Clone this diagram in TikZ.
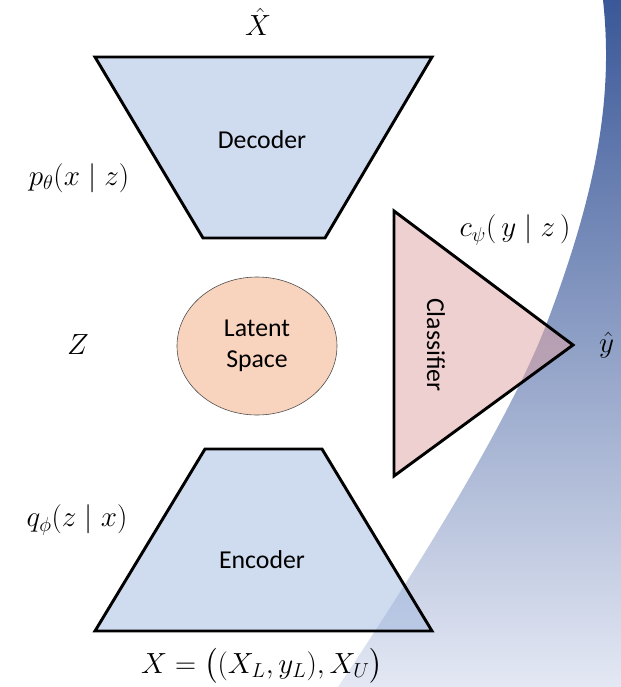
\documentclass[tikz,border=0pt]{standalone}
\usepackage{amsmath}
\usepackage[no-math]{fontspec}
\setmainfont{Carlito}
\usetikzlibrary{shapes.geometric}
\definecolor{bgtop}{RGB}{58,88,152}
\definecolor{bgmid}{RGB}{125,152,204}
\definecolor{bgbot}{RGB}{228,232,244}
\definecolor{netblue}{RGB}{159,183,221}
\definecolor{latpeach}{RGB}{248,211,189}
\definecolor{clspink}{RGB}{223,161,161}
\newcommand{\mnode}[3]{\node [mlabel] (#1) at (#2) {$#3$}}
\tikzset{
  block/.style={draw, line width=2.5pt, line join=miter},
  txt/.style={font=\fontsize{22}{26}\selectfont},
  mlabel/.style={font=\fontsize{27}{32}\selectfont},
}

\begin{document}
\begin{tikzpicture}[x=0.03cm, y=-0.03cm]

\clip (0,0) rectangle (621,687);
\shade[top color=bgtop, middle color=bgmid, bottom color=bgbot]
  (603,0) .. controls (614,100) and (595,195) .. (548,320)
  .. controls (520,395) and (450,520) .. (338,687) -- (621,687) -- (621,0) -- cycle;

\coordinate (D1) at (95,57);
\coordinate (D2) at (432,57);
\coordinate (D3) at (325,238);
\coordinate (D4) at (203,238);
\draw[block, fill=netblue, fill opacity=0.5] (D1) -- (D2) -- (D3) -- (D4) -- cycle;
\node [txt] (dec) at (262,140) {Decoder};

\coordinate (E1) at (205,449);
\coordinate (E2) at (322,449);
\coordinate (E3) at (432,631);
\coordinate (E4) at (95,631);
\draw[block, fill=netblue, fill opacity=0.5] (E1) -- (E2) -- (E3) -- (E4) -- cycle;
\node [txt] (enc) at (262,560) {Encoder};

\node [ellipse, draw=black!70, line width=0.5pt, fill=latpeach, minimum width=4.8cm,
  minimum height=4.14cm, txt, align=center] (lat) at (257,346) {Latent\\Space};

\coordinate (C1) at (394,211);
\coordinate (C2) at (573,345);
\coordinate (C3) at (394,476);
\draw[block, fill=clspink, fill opacity=0.5] (C1) -- (C2) -- (C3) -- cycle;
\node [txt, rotate=-90] (cls) at (436,345) {Classifier};

\mnode{XH}{258,22}{\hat{X}};
\mnode{PD}{79,178}{p_\theta(x \mid z)};
\mnode{Z}{78,345}{Z};
\mnode{QE}{77,520}{q_\phi(z \mid x)};
\mnode{X}{262,666}{X = \big((X_L, y_L), X_U\big)};
\mnode{CC}{515,230}{c_\psi(\,y \mid z\,)};
\node [mlabel, anchor=west] (YH) at (595,345) {$\hat{y}$};

\end{tikzpicture}
\end{document}
